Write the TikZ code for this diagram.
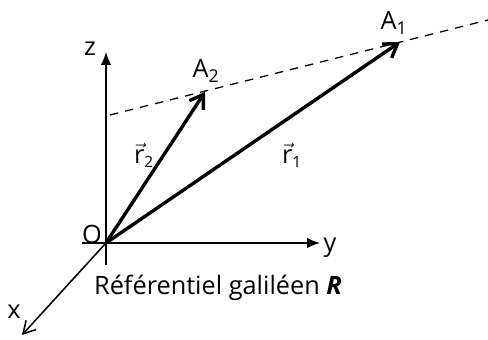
\documentclass[tikz,border=0pt]{standalone}
\usepackage{fontspec}
\setmainfont{Open Sans}
\usetikzlibrary{arrows.meta,positioning}
\newcommand{\vlabel}[1]{$\vec{\mbox{r}}_{\mbox{\fontsize{11}{13}\selectfont #1}}$}

\begin{document}
\begin{tikzpicture}[font=\fontsize{18}{21}\selectfont, >=Stealth,
  axe/.style={line width=1.1pt},
  vect/.style={line width=2.4pt, -{Straight Barb[length=3.2mm,width=4.2mm,line width=2.4pt]}},
  lbl/.style={inner sep=1pt}]
\useasboundingbox (-2.65,-2.425) rectangle (9.55,6.075);
% points
\coordinate (O) at (0,0);
\coordinate (zb) at (0,-0.55);
\coordinate (zt) at (0,4.775);
\coordinate (yl) at (-0.6,0);
\coordinate (yr) at (5.35,0);
\coordinate (xe) at (-2.1,-2.3);
\coordinate (A2) at (2.475,3.775);
\coordinate (A1) at (7.35,5.025);
\coordinate (d0) at (0.1,3.2);
\coordinate (d1) at (9.55,5.575);
% axes
\draw[axe, -{Latex[length=3.2mm,width=2.6mm]}] (zb) -- (zt);
\draw[axe, -{Latex[length=3.2mm,width=2.6mm]}] (yl) -- (yr);
\draw[axe, -{Straight Barb[length=3mm,width=3.4mm]}] (O) -- (xe);
\draw[dashed, line width=0.9pt, dash pattern=on 6pt off 5pt] (d0) -- (d1);
% vectors
\draw[vect] (O) -- (A2);
\draw[vect] (O) -- (A1);
% labels
\node[lbl] (lz) at (-0.4,4.85) {z};
\node[lbl] (ly) at (5.6,-0.125) {y};
\node[lbl] (lx) at (-2.3,-1.725) {x};
\node[lbl] (lO) at (-0.35,0.22) {O};
\node[lbl] (lA2) at (2.5,4.3) {A\textsubscript{2}};
\node[lbl] (lA1) at (7.2,5.5) {A\textsubscript{1}};
\node[lbl] (lr2) at (0.95,2.2) {\vlabel{2}};
\node[lbl] (lr1) at (4.65,2.2) {\vlabel{1}};
\node[lbl] (ref) at (2.8,-1.125) {Référentiel galiléen \textbf{\textit{R}}};
\end{tikzpicture}
\end{document}
